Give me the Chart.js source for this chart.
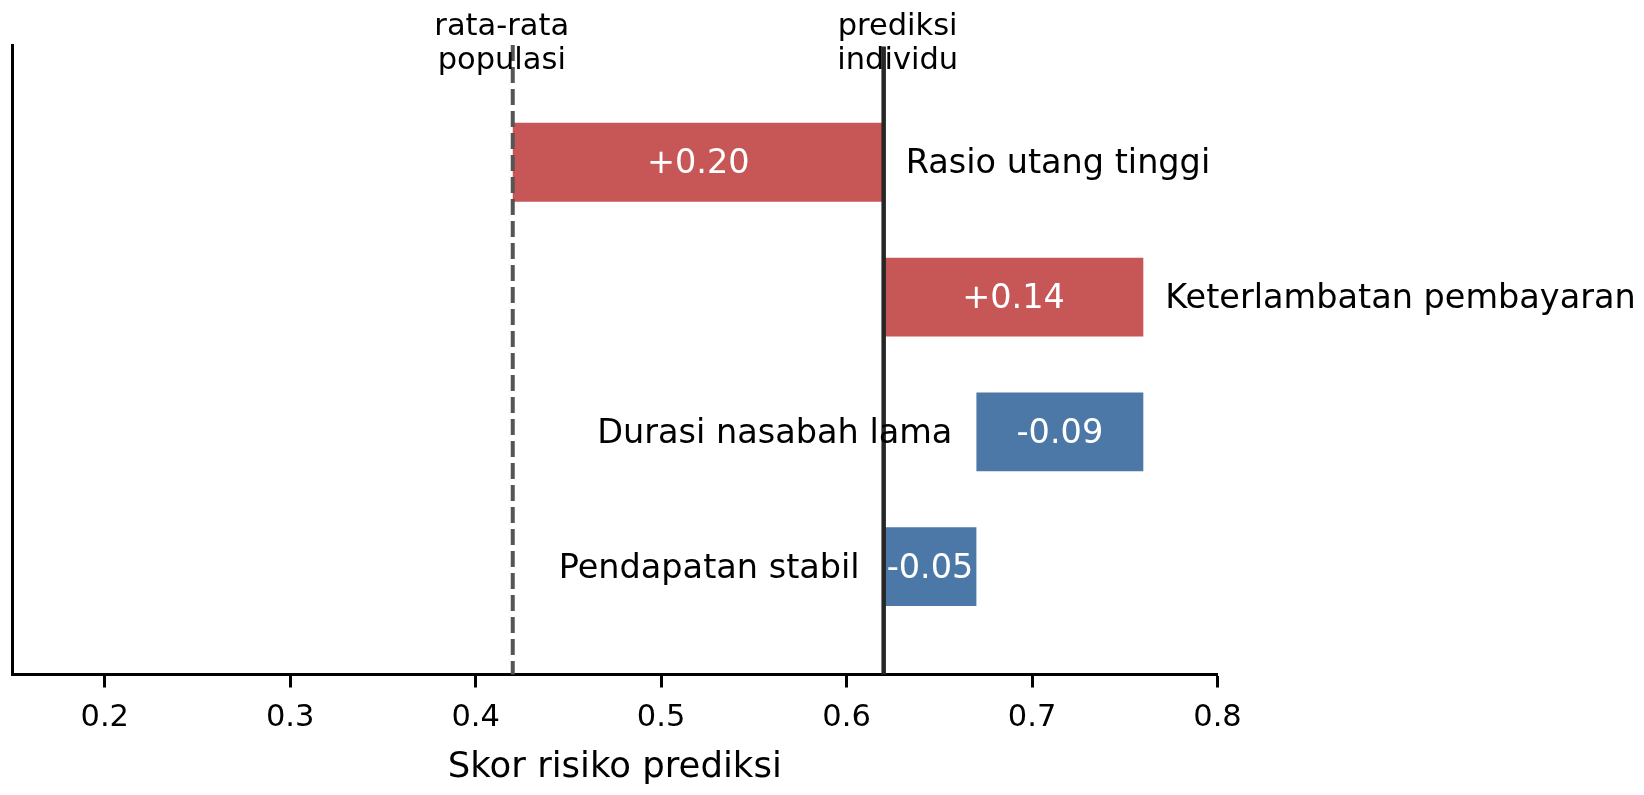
<!DOCTYPE html>
<html lang="id">
<head>
    <meta charset="UTF-8">
    <title>Skor risiko prediksi</title>
    <style>
        html, body { margin: 0; padding: 0; background: #ffffff; }
    </style>
</head>
<body>
    <canvas id="waterfall" width="1644" height="795"></canvas>
    <script src="https://cdn.jsdelivr.net/npm/chart.js"></script>

<script type="text/javascript">

    // data
    const features = ['Rasio utang tinggi', 'Keterlambatan pembayaran', 'Durasi nasabah lama', 'Pendapatan stabil'];
    const contributions = [0.20, 0.14, -0.09, -0.05];
    const baseValue = 0.42;       // rata-rata populasi
    const predictionValue = 0.62; // prediksi individu
    const xTickValues = [0.2, 0.3, 0.4, 0.5, 0.6, 0.7, 0.8];
    const baseLabel = ['rata-rata', 'populasi'];
    const predictionLabel = ['prediksi', 'individu'];
    const xTitle = 'Skor risiko prediksi';

    const FONT = "'DejaVu Sans', 'Liberation Sans', sans-serif";
    const RED = '#C75757';
    const BLUE = '#4C78A8';

    // build the floating bars: each starts where the previous one ended
    let running = baseValue;
    let bars = [];
    let colors = [];
    let rows = [];
    for (let i = 0; i < features.length; i++) {
        let start = running;
        let end = running + contributions[i];
        let row = features.length - 1 - i;
        bars.push({ x: [start, end], y: row });
        rows.push(row);
        colors.push(contributions[i] >= 0 ? RED : BLUE);
        running = end;
    }

    function fmt(v) {
        return (v >= 0 ? '+' : '-') + Math.abs(v).toFixed(2);
    }

    const annotations = {
        id: 'annotations',
        afterDatasetsDraw(chart) {
            const ctx = chart.ctx;
            const xs = chart.scales.x;
            const area = chart.chartArea;
            const meta = chart.getDatasetMeta(0);

            ctx.save();

            // reference lines
            let xb = xs.getPixelForValue(baseValue);
            ctx.strokeStyle = '#555555';
            ctx.lineWidth = 4;
            ctx.setLineDash([16, 6]);
            ctx.beginPath();
            ctx.moveTo(xb, area.top);
            ctx.lineTo(xb, area.bottom);
            ctx.stroke();

            let xp = xs.getPixelForValue(predictionValue);
            ctx.strokeStyle = '#262626';
            ctx.lineWidth = 4.5;
            ctx.setLineDash([]);
            ctx.beginPath();
            ctx.moveTo(xp, area.top + 1.5);
            ctx.lineTo(xp, area.bottom);
            ctx.stroke();

            // labels above the lines
            ctx.fillStyle = '#000000';
            ctx.font = '30.5px ' + FONT;
            ctx.textAlign = 'center';
            ctx.textBaseline = 'alphabetic';
            ctx.fillText(baseLabel[0], xb - 11, 35);
            ctx.fillText(baseLabel[1], xb - 11, 69);
            ctx.fillText(predictionLabel[0], xp + 14, 35);
            ctx.fillText(predictionLabel[1], xp + 14, 69);

            // value inside each bar, feature name beside it
            ctx.textBaseline = 'middle';
            meta.data.forEach((bar, i) => {
                let left = Math.min(bar.x, bar.base);
                let right = Math.max(bar.x, bar.base);
                let cy = bar.y + 2.5;

                ctx.font = '33.5px ' + FONT;
                ctx.fillStyle = '#ffffff';
                ctx.textAlign = 'center';
                ctx.fillText(fmt(contributions[i]), (left + right) / 2, cy);

                ctx.fillStyle = '#000000';
                if (contributions[i] >= 0) {
                    ctx.textAlign = 'left';
                    ctx.fillText(features[i], right + 22, cy);
                } else {
                    ctx.textAlign = 'right';
                    ctx.fillText(features[i], left - 24, cy);
                }
            });

            ctx.restore();
        }
    };

    new Chart(
        document.getElementById('waterfall').getContext('2d'),
        {
            type: 'bar',
            data: {
                datasets: [{
                    data: bars,
                    backgroundColor: colors,
                    borderWidth: 0,
                    categoryPercentage: 1.0,
                    barPercentage: 0.585
                }]
            },
            options: {
                indexAxis: 'y',
                responsive: false,
                animation: false,
                events: [],
                layout: {
                    padding: { left: 12, right: 426.5, top: 45, bottom: 0 }
                },
                plugins: {
                    legend: { display: false },
                    tooltip: { enabled: false }
                },
                scales: {
                    x: {
                        type: 'linear',
                        min: 0.15,
                        max: 0.8,
                        afterBuildTicks: (scale) => {
                            scale.ticks = xTickValues.map(v => ({ value: v }));
                        },
                        afterFit: (scale) => { scale.height = 120.5; },
                        border: { display: true, color: '#000000', width: 3 },
                        grid: {
                            display: true,
                            drawOnChartArea: false,
                            drawTicks: true,
                            tickLength: 13,
                            tickWidth: 3,
                            color: '#000000'
                        },
                        ticks: {
                            color: '#000000',
                            padding: 12,
                            font: { family: FONT, size: 30.5 },
                            callback: (v) => v.toFixed(1)
                        },
                        title: {
                            display: true,
                            text: xTitle,
                            color: '#000000',
                            font: { family: FONT, size: 35.5 },
                            padding: { top: 0, bottom: 6 }
                        }
                    },
                    y: {
                        type: 'linear',
                        offset: false,
                        min: -0.8,
                        max: 3.87,
                        afterBuildTicks: (scale) => {
                            scale.ticks = rows.map(v => ({ value: v }));
                        },
                        afterFit: (scale) => { scale.width = 0; },
                        border: { display: true, color: '#000000', width: 3 },
                        grid: { display: false },
                        ticks: { display: false }
                    }
                }
            },
            plugins: [annotations]
        }
    );
</script>
</body>
</html>
